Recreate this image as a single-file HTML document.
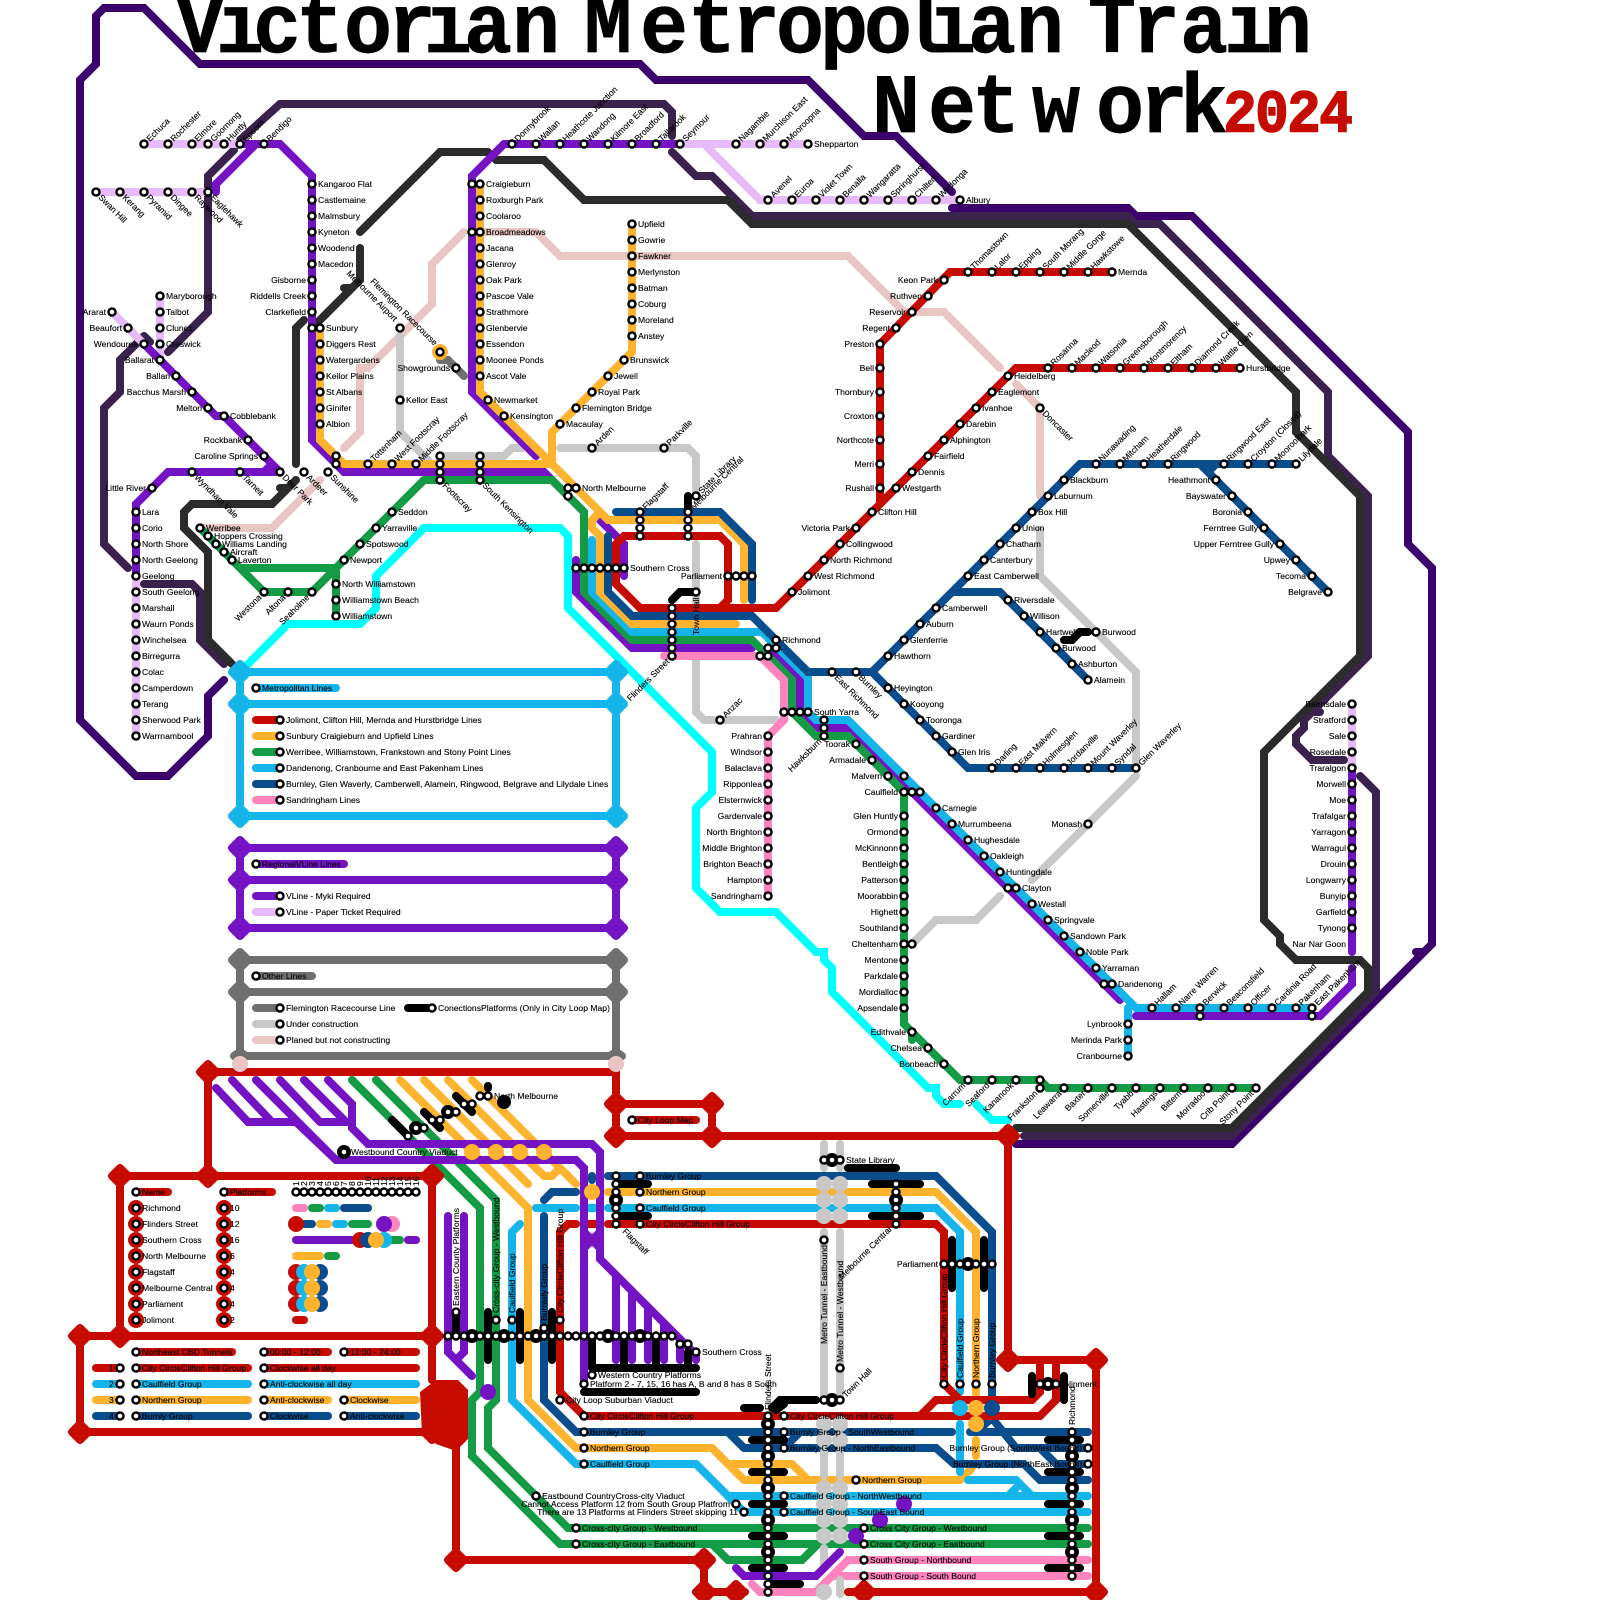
<!DOCTYPE html>
<html lang="en"><head><meta charset="utf-8"><title>Victorian Metropolian Train Network 2024</title>
<style>
html,body{margin:0;padding:0;background:#fff}
svg{display:block}
.l path,path.l{fill:none;stroke-width:8;stroke-linecap:round;stroke-linejoin:miter;stroke-miterlimit:4}
.d path{stroke-width:8;stroke-linejoin:round}
text{font-family:"Liberation Sans",sans-serif;font-size:8.6px;fill:#000;stroke:#000;stroke-width:.12px}
.e text,text.e{text-anchor:end}
.t{font-family:"Liberation Mono",monospace;font-weight:bold;font-size:80px;text-anchor:middle;stroke-width:.6px}
.y{font-family:"Liberation Mono",monospace;font-weight:bold;font-size:56px;text-anchor:middle;fill:#c60c00;stroke:#c60c00;stroke-width:1.5px}
</style></head><body>
<svg xmlns="http://www.w3.org/2000/svg" width="1600" height="1600" viewBox="0 0 1600 1600">
<defs>
<path id="st" fill="none" stroke-linecap="round" d="M144 144h0m24 0h0m24 0h0m16 0h0m16 0h0m16 0h0m24 0h0
M96 192h0m24 0h0m24 0h0m24 0h0m24 0h0m16 0h0
M160 296h0m0 16h0m0 16h0m0 16h0m0 16h0 M112 312h0 M128 328h0 M144 344h0 M176 376h0 M192 392h0 M208 408h0 M224 416h0 M248 440h0 M264 456h0
M192 472h0m48 0h0m40 0h0m24 0h0m24 0h0 M152 488h0
M136 512h0m0 16h0m0 16h0m0 16h0m0 16h0m0 16h0m0 16h0m0 16h0m0 16h0m0 16h0m0 16h0m0 16h0m0 16h0m0 16h0m0 16h0
M312 184h0m0 16h0m0 16h0m0 16h0m0 16h0m0 16h0m0 16h0m0 16h0m0 16h0m0 16h0
M320 328h0m0 16h0m0 16h0m0 16h0m0 16h0m0 16h0m0 16h0
M336 456h0m0 8h0 M368 464h0m24 0h0m24 0h0
M440 456h0m0 8h0m0 8h0m0 8h0 M480 456h0m0 8h0m0 8h0m0 8h0
M472 184h0m0 48h0
M480 184h0m0 16h0m0 16h0m0 16h0m0 16h0m0 16h0m0 16h0m0 16h0m0 16h0m0 16h0m0 16h0m0 16h0m0 16h0
M488 400h0 M504 416h0
M512 144h0m24 0h0m24 0h0m24 0h0m24 0h0m24 0h0m24 0h0m24 0h0m56 0h0m24 0h0m24 0h0m24 0h0
M768 200h0m24 0h0m24 0h0m24 0h0m24 0h0m24 0h0m24 0h0m24 0h0m24 0h0
M400 328h0m0 72h0 M440 352h0 M456 368h0
M632 224h0m0 16h0m0 16h0m0 16h0m0 16h0m0 16h0m0 16h0m0 16h0
M624 360h0 M608 376h0 M592 392h0 M576 408h0 M560 424h0 M592 448h0 M664 448h0
M568 488h0m8 0h0 M568 496h0
M640 512h0m0 8h0m0 8h0m0 8h0 M688 512h0m0 8h0m0 8h0m0 8h0 M696 496h0
M200 528h0 M208 536h0 M216 544h0 M224 552h0 M232 560h0
M392 512h0 M376 528h0 M360 544h0 M344 560h0
M264 592h0m24 0h0m24 0h0 M336 584h0m0 16h0m0 16h0
M576 568h0m8 0h0m8 0h0m8 0h0m8 0h0m8 0h0m8 0h0
M728 576h0m8 0h0m8 0h0m8 0h0 M696 592h0
M672 608h0m0 8h0m0 8h0m0 8h0m0 8h0m0 8h0m0 8h0
M776 640h0m0 8h0 M768 648h0m0 8h0 M760 656h0
M784 712h0m8 0h0m8 0h0m8 0h0 M824 720h0m0 8h0m0 8h0 M720 720h0
M856 744h0 M872 760h0 M888 776h0 M904 776h0 M904 792h0m8 0h0m8 0h0
M768 736h0m0 16h0m0 16h0m0 16h0m0 16h0m0 16h0m0 16h0m0 16h0m0 16h0m0 16h0m0 16h0
M904 816h0m0 16h0m0 16h0m0 16h0m0 16h0m0 16h0m0 16h0m0 16h0m0 16h0m0 16h0m0 16h0m0 16h0m0 16h0 M912 944h0
M912 1032h0 M928 1048h0 M944 1064h0
M968 1080h0m24 0h0m24 0h0m24 0h0 M1040 1088h0m24 0h0m24 0h0m24 0h0m24 0h0m24 0h0m24 0h0m24 0h0m24 0h0m24 0h0
M968 272h0m24 0h0m24 0h0m24 0h0m24 0h0m24 0h0m24 0h0
M944 280h0 M928 296h0 M912 312h0 M896 328h0 M880 344h0m0 24h0m0 24h0m0 24h0m0 24h0m0 24h0m0 24h0
M1048 368h0m24 0h0m24 0h0m24 0h0m24 0h0m24 0h0m24 0h0m24 0h0m24 0h0
M1008 376h0 M992 392h0 M976 408h0 M960 424h0 M944 440h0 M928 456h0 M912 472h0 M896 488h0 M872 512h0 M856 528h0 M840 544h0 M824 560h0 M808 576h0 M792 592h0
M1040 408h0 M1096 464h0m24 0h0m24 0h0m24 0h0m56 0h0m24 0h0m24 0h0m24 0h0
M1064 480h0 M1048 496h0 M1032 512h0 M1016 528h0 M1000 544h0 M984 560h0 M968 576h0 M936 608h0 M920 624h0 M904 640h0 M888 656h0
M832 672h0m24 0h0
M1216 480h0m16 16h0m16 16h0m16 16h0m16 16h0m16 16h0m16 16h0m16 16h0
M1008 600h0m16 16h0m16 16h0m16 16h0m16 16h0m16 16h0 M1096 632h0
M888 688h0m16 16h0m16 16h0m16 16h0m16 16h0
M992 768h0m24 0h0m24 0h0m24 0h0m24 0h0m24 0h0m24 0h0 M1088 824h0
M936 808h0m16 16h0m16 16h0m16 16h0m16 16h0 M1008 888h0m8 0h0 M1032 904h0m16 16h0m16 16h0m16 16h0m16 16h0 M1104 984h0m8 0h0
M1152 1008h0m24 0h0m24 0h0m24 0h0m24 0h0m24 0h0m24 0h0m16 0h0 M1200 1016h0 M1312 1016h0
M1128 1024h0m0 16h0m0 16h0
M1352 704h0m0 16h0m0 16h0m0 16h0m0 16h0m0 16h0m0 16h0m0 16h0m0 16h0m0 16h0m0 16h0m0 16h0m0 16h0m0 16h0m0 16h0
M256 688h0 M280 720h0m0 16h0m0 16h0m0 16h0m0 16h0m0 16h0
M256 864h0 M280 896h0m0 16h0 M256 976h0 M280 1008h0m0 16h0m0 16h0 M432 1008h0
M632 1120h0 M344 1152h0
M408 1136h0 M416 1128h0m8 0h0 M432 1120h0m8 0h0 M448 1112h0m8 0h0 M464 1104h0m8 0h0 M480 1096h0m8 0h0
M136 1192h0m0 16h0m0 16h0m0 16h0m0 16h0m0 16h0m0 16h0m0 16h0m0 16h0
M224 1192h0m0 16h0m0 16h0m0 16h0m0 16h0m0 16h0m0 16h0m0 16h0m0 16h0
M296 1192h0m8 0h0m8 0h0m8 0h0m8 0h0m8 0h0m8 0h0m8 0h0m8 0h0m8 0h0m8 0h0m8 0h0m8 0h0m8 0h0m8 0h0m8 0h0
M136 1352h0m128 0h0m80 0h0 M120 1368h0m16 0h0m128 0h0 M120 1384h0m16 0h0m128 0h0 M120 1400h0m16 0h0m128 0h0m80 0h0 M120 1416h0m16 0h0m128 0h0m80 0h0
M456 1312h0 M496 1320h0 M512 1320h0 M544 1328h0 M560 1320h0
M448 1336h0m8 0h0m8 0h0m8 0h0m8 0h0m8 0h0m8 0h0m8 0h0m8 0h0m8 0h0m8 0h0m8 0h0m8 0h0m8 0h0m8 0h0m8 0h0m8 0h0m8 0h0m8 0h0m8 0h0m8 0h0m8 0h0m8 0h0m8 0h0m8 0h0m8 0h0m8 0h0m8 0h0m8 0h0
M680 1344h0m8 0h0 M696 1352h0 M592 1375h0 M584 1384h0 M560 1400h0
M616 1176h0m0 8h0m0 8h0m0 8h0m0 8h0m0 8h0m0 8h0 M640 1176h0m0 16h0m0 16h0m0 16h0
M896 1184h0m0 8h0m0 8h0m0 8h0m0 8h0m0 8h0 M824 1160h0m8 0h0m8 0h0 M824 1240h0 M840 1368h0 M824 1400h0m8 0h0m8 0h0
M944 1264h0m8 0h0m8 0h0m8 0h0m8 0h0m8 0h0m8 0h0 M944 1384h0m16 0h0m16 0h0m16 0h0 M1040 1384h0m8 0h0m8 0h0
M584 1416h0m0 16h0m0 16h0m0 16h0 M576 1528h0m0 16h0 M536 1496h0 M736 1504h0 M744 1512h0
M768 1416h0m0 8h0m0 8h0m0 8h0m0 8h0m0 8h0m0 8h0m0 8h0m0 8h0m0 8h0m0 8h0m0 8h0m0 8h0m0 8h0m0 8h0m0 8h0m0 8h0m0 8h0m0 8h0m0 8h0m0 8h0m0 8h0m0 8h0
M784 1416h0m0 16h0m0 16h0 M784 1496h0m0 16h0 M856 1480h0 M864 1528h0m0 16h0m0 16h0m0 16h0
M1072 1432h0m0 8h0m0 8h0m0 8h0m0 8h0m0 8h0m0 8h0m0 8h0m0 8h0m0 8h0m0 8h0m0 8h0m0 8h0m0 8h0m0 8h0m0 8h0m0 8h0m0 8h0m0 8h0
M1088 1448h0m0 16h0"/>
</defs>
<rect width="1600" height="1600" fill="#fff"/>

<text class="t" transform="scale(1 1.06)" y="49" x="200 240 277 320 368 412 448 488 536 572 608 664 712 756 800 844 888 924 952 992 1040 1076 1112 1156 1204 1248 1288">Victorian Metropolian Train</text>
<text class="t" transform="scale(1 1.06)" y="124.5" x="896 952 996 1056 1120 1164 1204">Network</text>
<text class="y" transform="scale(1 1.07)" y="123" x="1240 1272 1304 1336">2024</text>

<g class="l">
<!-- outer country lines -->
<g stroke="#3c006c"><path d="M952 192L896 136H864L808 80H656L640 64H200L144 8H104L96 16V64L80 80V720L136 776H168L208 736V696L224 680"/>
<path d="M952 208H1128L1136 216H1192L1408 432V544L1432 568V944L1232 1144H1016M1416 952H1424M1240 1128H1248"/></g>
<g stroke="#39224c"><path d="M240 140L280 104H664L672 112V136M234 150L208 176V312L168 352M144 336L120 360V392L104 408V544L128 568M144 584H192L200 592V640L224 664M672 152L696 176H712L752 216H1128L1136 224H1160L1328 392V456L1368 496V656L1304 720V728L1296 736V744L1312 760H1344M1360 776L1376 792V992L1232 1136L1224 1136H1024M1312 712H1320M144 336L150 342"/></g>
<g stroke="#2b2b2b"><path d="M360 232L440 152H488M496 160H544L584 200H728L752 224H1128L1296 392V432L1360 496V656L1264 752V920L1280 936V944L1296 960H1360L1368 968V992L1232 1128H1016M360 248V280L312 328M344 288H352M304 320L296 328V464M296 480L272 504H192L184 512V528L208 552V640L232 664M280 488H288"/></g>

<!-- pale & grey -->
<g stroke="#e8c6c4"><path d="M464 232L432 264V304L368 368H360V432L344 448M480 232H536L560 256H848L904 312H944L1000 368M1016 384L1040 408V496M320 480L272 528H200"/></g>
<g stroke="#c8c8c8"><path d="M400 336V432L428 460M440 456H504L512 448H522M560 448H688L696 456V496M696 544V604M696 662V712L704 720H776M1040 530V576L1136 672V768M1136 776L1032 880M1000 896L976 920H936L912 944"/></g>
<path stroke="#6f6f6f" d="M440 360H448L464 376"/>
<path stroke="#00ffff" d="M248 664L288 624H360L376 608V576L424 528H560L568 536V608L712 752V792L696 808V888L720 912H776L816 952H824V960L832 968V992L928 1088H936V1096L944 1104H960M976 1104L992 1120H1008"/>

<!-- light purple -->
<g stroke="#e6bbf8"><path d="M144 144H240M96 192H208M112 312L144 344M160 296V360M136 576V736M680 144H808M704 144L760 200H960M1352 704V768"/></g>

<!-- purple -->
<g stroke="#7412c4"><path d="M240 144H280L312 176V440L344 472H544L584 512M216 192V184L256 144M144 344L216 416H224L280 472M264 472L272 464M280 472H168L136 504V576"/>
<path d="M504 144H680M504 144L472 176V392L536 456M600 520L624 544V576"/>
<path d="M576 560V592L632 648H752M768 648L800 680V712L816 728H848L1120 1000M1136 1016H1320L1352 984V968M1352 768V952"/></g>

<!-- green -->
<path stroke="#149b45" d="M424 480H552L584 512V592L632 640H752L792 680V712L816 736H848L904 792V1024L960 1080H1040L1048 1088H1256M912 1032V1040M424 480L336 568H240L200 528M240 568L264 592H312L336 568V616"/>
<!-- light blue -->
<path stroke="#15b4e9" d="M592 540V592L632 632H762L808 678V712L816 720H848L1136 1008H1312M1128 1008V1056"/>
<!-- orange -->
<path stroke="#ffb32e" d="M320 328V440L344 464H552M480 184V392L608 520H720L744 544V600M632 224V352L552 432V464M600 512L592 520V528L600 536V592L632 624H736"/>
<!-- dark blue -->
<path stroke="#0a4d8c" d="M616 512H720L752 544V600M608 536V592L632 616H752L808 672H872L1080 464H1296M1200 464L1328 592M1216 464L1208 472M952 592H1000L1088 680M872 672L968 768H1136"/>
<!-- pink -->
<path stroke="#ff83bd" d="M664 656H760L784 680V720L768 736V896"/>
<!-- red -->
<path stroke="#c60c00" d="M1112 272H950L880 344V504M1240 368H1016L776 608H640L616 584V544L624 536H720L728 544V600L720 608"/>

<!-- legend boxes -->
<g stroke="#15b4e9"><path d="M240 672H616M240 704H616M240 816H616M240 672V816M616 672V816M256 688H336M256 768H280"/></g>
<g stroke="#7412c4"><path d="M240 848H616M240 880H616M240 928H616M240 848V928M616 848V928M256 864H344M256 896H280"/></g>
<path stroke="#e6bbf8" d="M256 912H280"/>
<g stroke="#6f6f6f"><path d="M240 960H616M240 992H616M240 1056H616M240 960V1056M616 960V1056M256 976H312M256 1008H280"/></g>
<path stroke="#c8c8c8" d="M256 1024H280"/><path stroke="#e8c6c4" d="M256 1040H280"/>
<path stroke="#000" d="M408 1008H432"/>
<path stroke="#c60c00" d="M256 720H280"/><path stroke="#ffb32e" d="M256 736H280"/><path stroke="#149b45" d="M256 752H280"/><path stroke="#15b4e9" d="M256 768H280"/><path stroke="#0a4d8c" d="M256 784H280"/><path stroke="#ff83bd" d="M256 800H280"/>

<!-- red frames -->
<path stroke="#c60c00" d="M208 1072H616V1136M616 1104H712V1136M616 1136H1008V1360H1096V1592M848 1592H1096M208 1072V1176M120 1176H432V1380M120 1176V1336M80 1336H432M80 1336V1432H432M456 1440V1560H704V1592M696 1592H745M632 1120H696
M136 1192H168M224 1192H272M136 1352H232M264 1352H328M344 1352H416M96 1368H120M136 1368H248M264 1368H416M296 1320H304"/>
<path stroke="#15b4e9" d="M96 1384H120M136 1384H248M264 1384H416"/>
<path stroke="#ffb32e" d="M96 1400H120M136 1400H248M264 1400H328M344 1400H416"/>
<path stroke="#0a4d8c" d="M96 1416H120M136 1416H248M264 1416H328M344 1416H416"/>

<!-- platforms key -->
<path stroke="#ff83bd" d="M296 1208H304"/><path stroke="#149b45" d="M312 1208H320"/><path stroke="#15b4e9" d="M328 1208H336"/><path stroke="#0a4d8c" d="M344 1208H368"/>
<path stroke="#0a4d8c" d="M304 1224H312"/><path stroke="#ffb32e" d="M320 1224H328"/><path stroke="#15b4e9" d="M336 1224H344"/><path stroke="#149b45" d="M352 1224H368"/>
<path stroke="#7412c4" d="M296 1240H352M408 1240H416"/><path stroke="#149b45" d="M392 1240H400"/>
<path stroke="#ffb32e" d="M296 1256H320"/><path stroke="#149b45" d="M328 1256H336"/>

<!-- city loop map lines -->
<g stroke="#149b45"><path d="M352 1080L480 1208V1392L472 1400V1456L560 1544H1088M376 1080L496 1200V1400L488 1408V1448L568 1528H1088M712 1544L728 1560H802L818 1544"/></g>
<g stroke="#ffb32e"><path d="M400 1080L528 1208V1400L576 1448H712L744 1480H960L972 1468M424 1080L528 1184M448 1080L536 1168L544 1176H552L560 1168M472 1080L576 1184M608 1192H936L976 1232V1394M712 1448L728 1464H792L808 1480M976 1440V1456"/></g>
<g stroke="#15b4e9"><path d="M520 1224L512 1232V1400L576 1464H696L728 1496H1088M744 1512H1088M728 1496L744 1512M608 1208H936L960 1232V1392M960 1424V1472M536 1208H576M584 1208H600M968 1480H1016L1032 1496M1008 1496L1016 1488"/></g>
<g stroke="#0a4d8c"><path d="M608 1176H936L992 1232V1396M544 1216V1400L576 1432H952M544 1200L552 1192H576M592 1176V1180M744 1448H936L954 1464H1024L1040 1480H1088M728 1432L744 1448M800 1432L784 1448M970 1432H1088M976 1432L992 1418L1016 1448H1088M1040 1448L1056 1464H1088"/></g>
<g stroke="#c60c00"><path d="M608 1224H936L944 1232V1384L960 1400M576 1224H568L560 1232V1392L584 1416H1040L1056 1400V1360M920 1416L936 1400H1032L1040 1392V1360M584 1224H600"/></g>
<g stroke="#ff83bd"><path d="M752 1584L760 1592H816L848 1560H1088M816 1592L832 1576H1088"/></g>
<g stroke="#c8c8c8"><path d="M824 1144V1168M840 1144V1168M824 1232V1396M840 1232V1396M824 1452V1476M840 1452V1476M824 1548V1564M840 1580V1594"/></g>
<g stroke="#7412c4"><path d="M216 1088L248 1122H296L336 1160H576L584 1168V1380M256 1080L336 1160M232 1080L272 1122M280 1080L320 1122M304 1080L346 1122M328 1080L352 1104V1128L368 1144H592L600 1152V1259L696 1355V1360M320 1122H352"/>
<path d="M616 1275V1360M632 1291V1360M648 1307V1360M664 1323V1360M680 1339V1360M584 1232L600 1248M600 1232L584 1248M448 1216V1352L472 1376M464 1216V1352L456 1360M736 1568L744 1576H816L840 1552"/></g>

<!-- black connectors -->
<g stroke="#000"><path d="M672 600L680 592H696M688 496V508M1064 640H1072L1080 632H1088
M392 1120L408 1136M424 1112L440 1128M456 1096L472 1112M488 1086V1088
M456 1312V1336M488 1312V1360M520 1312V1360M552 1312V1360M592 1336V1368M624 1336V1368M656 1336V1368M688 1352V1368M592 1368H696M584 1392H696
M616 1184H648M616 1216H648M872 1184H920M872 1216H920M848 1168H896M952 1240V1288M984 1240V1288M772 1408L780 1400H816M776 1410L784 1404M744 1408H760M1032 1376V1394M1064 1376V1400
M752 1440H784M752 1472H784M752 1504H784M752 1536H784M752 1568H784M768 1584H800M1048 1440H1080M1048 1472H1080M1048 1504H1080M1048 1536H1080M1048 1568H1080"/></g>
</g>

<!-- big octagon -->
<polygon fill="#c60c00" points="436,1380 458,1380 468,1390 468,1439 456,1451 436,1444 422,1435 420,1392"/>

<!-- diamonds -->
<g class="d">
<path fill="#15b4e9" stroke="#15b4e9" d="M240 664l8 8-8 8-8-8zM616 664l8 8-8 8-8-8zM240 696l8 8-8 8-8-8zM616 696l8 8-8 8-8-8zM240 808l8 8-8 8-8-8zM616 808l8 8-8 8-8-8z"/>
<path fill="#7412c4" stroke="#7412c4" d="M240 840l8 8-8 8-8-8zM616 840l8 8-8 8-8-8zM240 872l8 8-8 8-8-8zM616 872l8 8-8 8-8-8zM240 920l8 8-8 8-8-8zM616 920l8 8-8 8-8-8z"/>
<path fill="#6f6f6f" stroke="#6f6f6f" d="M240 952l8 8-8 8-8-8zM616 952l8 8-8 8-8-8zM240 984l8 8-8 8-8-8zM616 984l8 8-8 8-8-8zM240 1052l6 4-6 4-6-4zM616 1052l6 4-6 4-6-4z"/>
<path fill="#c60c00" stroke="#c60c00" d="M208 1064l8 8-8 8-8-8zM616 1096l8 8-8 8-8-8zM712 1096l8 8-8 8-8-8zM616 1128l8 8-8 8-8-8zM712 1128l8 8-8 8-8-8zM1008 1128l8 8-8 8-8-8zM1008 1352l8 8-8 8-8-8zM1096 1352l8 8-8 8-8-8zM1096 1584l8 8-8 8-8-8zM704 1552l8 8-8 8-8-8zM456 1552l8 8-8 8-8-8zM80 1328l8 8-8 8-8-8zM120 1328l8 8-8 8-8-8zM432 1328l8 8-8 8-8-8zM120 1168l8 8-8 8-8-8zM208 1168l8 8-8 8-8-8zM432 1168l8 8-8 8-8-8zM80 1424l8 8-8 8-8-8zM432 1424l8 8-8 8-8-8zM736 1584l8 8-8 8-8-8zM864 1584l8 8-8 8-8-8zM704 1584l8 8-8 8-8-8z"/>
</g>

<!-- dots/blobs -->
<g fill="none" stroke-linecap="round">
<path stroke="#e8c6c4" stroke-width="16" d="M240 1064h0M616 1064h0"/>
<path stroke="#ffb32e" stroke-width="16" d="M440 352h0M472 1152h0m24 0h0m24 0h0m24 0h0M592 1192h0"/>
<path stroke="#c8c8c8" stroke-width="16" d="M824 1184h0m0 16h0m0 16h0M840 1184h0m0 16h0m0 16h0M824 1424h0m0 16h0M840 1424h0m0 16h0M824 1488h0m0 16h0m0 16h0m0 16h0M840 1488h0m0 16h0m0 16h0m0 16h0M824 1592h0"/>
<path stroke="#c60c00" stroke-width="16" d="M136 1208h0m0 16h0m0 16h0m0 16h0m0 16h0m0 16h0m0 16h0m0 16h0M224 1208h0m0 16h0m0 16h0m0 16h0m0 16h0m0 16h0m0 16h0m0 16h0M296 1224h0M360 1240h0M296 1272h0m0 16h0m0 16h0"/>
<path stroke="#ff83bd" stroke-width="16" d="M392 1224h0"/>
<path stroke="#7412c4" stroke-width="16" d="M384 1224h0M488 1392h0M904 1504h0M880 1520h0M856 1536h0"/>
<path stroke="#0a4d8c" stroke-width="16" d="M368 1240h0M320 1272h0m0 16h0m0 16h0M992 1408h0"/>
<path stroke="#15b4e9" stroke-width="16" d="M384 1240h0M304 1272h0m0 16h0m0 16h0M960 1408h0"/>
<path stroke="#ffb32e" stroke-width="16" d="M376 1240h0M312 1272h0m0 16h0m0 16h0M976 1408h0m0 16h0"/>
<path stroke="#000" stroke-width="14" d="M472 1336h0m32 0h0m32 0h0m72 0h0m32 0h0M616 1200h0M896 1200h0M832 1160h0M832 1400h0M968 1264h0M1048 1384h0M768 1424h0m0 32h0m0 32h0m0 32h0m0 32h0M1072 1456h0m0 32h0m0 32h0m0 32h0M416 1128h0M448 1112h0M504 1102h0M344 1152h0"/>
</g>

<!-- stations -->
<use href="#st" stroke="#000" stroke-width="9.5"/>
<use href="#st" stroke="#fff" stroke-width="4.6"/>

<!-- labels: right -->
<g>
<text x="318" y="187">Kangaroo Flat</text><text x="318" y="203">Castlemaine</text><text x="318" y="219">Malmsbury</text><text x="318" y="235">Kyneton</text><text x="318" y="251">Woodend</text><text x="318" y="267">Macedon</text>
<text x="326" y="331">Sunbury</text><text x="326" y="347">Diggers Rest</text><text x="326" y="363">Watergardens</text><text x="326" y="379">Keilor Plains</text><text x="326" y="395">St Albans</text><text x="326" y="411">Ginifer</text><text x="326" y="427">Albion</text>
<text x="166" y="299">Maryborough</text><text x="166" y="315">Talbot</text><text x="166" y="331">Clunes</text><text x="166" y="347">Creswick</text><text x="230" y="419">Cobblebank</text>
<text x="142" y="515">Lara</text><text x="142" y="531">Corio</text><text x="142" y="547">North Shore</text><text x="142" y="563">North Geelong</text><text x="142" y="579">Geelong</text><text x="142" y="595">South Geelong</text><text x="142" y="611">Marshall</text><text x="142" y="627">Waurn Ponds</text><text x="142" y="643">Winchelsea</text><text x="142" y="659">Birregurra</text><text x="142" y="675">Colac</text><text x="142" y="691">Camperdown</text><text x="142" y="707">Terang</text><text x="142" y="723">Sherwood Park</text><text x="142" y="739">Warrnambool</text>
<text x="206" y="531">Werribee</text><text x="214" y="539">Hoppers Crossing</text><text x="222" y="547">Williams Landing</text><text x="230" y="555">Aircraft</text><text x="238" y="563">Laverton</text>
<text x="398" y="515">Seddon</text><text x="382" y="531">Yarraville</text><text x="366" y="547">Spotswood</text><text x="350" y="563">Newport</text>
<text x="342" y="587">North Williamstown</text><text x="342" y="603">Williamstown Beach</text><text x="342" y="619">Williamstown</text>
<text x="406" y="403">Kellor East</text>
<text x="486" y="187">Craigieburn</text><text x="486" y="203">Roxburgh Park</text><text x="486" y="219">Coolaroo</text><text x="486" y="235">Broadmeadows</text><text x="486" y="251">Jacana</text><text x="486" y="267">Glenroy</text><text x="486" y="283">Oak Park</text><text x="486" y="299">Pascoe Vale</text><text x="486" y="315">Strathmore</text><text x="486" y="331">Glenbervie</text><text x="486" y="347">Essendon</text><text x="486" y="363">Moonee Ponds</text><text x="486" y="379">Ascot Vale</text><text x="494" y="403">Newmarket</text><text x="510" y="419">Kensington</text>
<text x="638" y="227">Upfield</text><text x="638" y="243">Gowrie</text><text x="638" y="259">Fawkner</text><text x="638" y="275">Merlynston</text><text x="638" y="291">Batman</text><text x="638" y="307">Coburg</text><text x="638" y="323">Moreland</text><text x="638" y="339">Anstey</text>
<text x="630" y="363">Brunswick</text><text x="614" y="379">Jewell</text><text x="598" y="395">Royal Park</text><text x="582" y="411">Flemington Bridge</text><text x="566" y="427">Macaulay</text><text x="582" y="491">North Melbourne</text>
<text x="814" y="147">Shepparton</text><text x="966" y="203">Albury</text>
<text x="1118" y="275">Mernda</text><text x="1246" y="371">Hurstbridge</text>
<text x="1014" y="379">Heidelberg</text><text x="998" y="395">Eaglemont</text><text x="982" y="411">Ivanhoe</text><text x="966" y="427">Darebin</text><text x="950" y="443">Alphington</text><text x="934" y="459">Fairfield</text><text x="918" y="475">Dennis</text><text x="902" y="491">Westgarth</text><text x="878" y="515">Clifton Hill</text><text x="846" y="547">Collingwood</text><text x="830" y="563">North Richmond</text><text x="814" y="579">West Richmond</text><text x="798" y="595">Jolimont</text>
<text x="1070" y="483">Blackburn</text><text x="1054" y="499">Laburnum</text><text x="1038" y="515">Box Hill</text><text x="1022" y="531">Union</text><text x="1006" y="547">Chatham</text><text x="990" y="563">Canterbury</text><text x="974" y="579">East Camberwell</text><text x="942" y="611">Camberwell</text><text x="926" y="627">Auburn</text><text x="910" y="643">Glenferrie</text><text x="894" y="659">Hawthorn</text>
<text x="894" y="691">Heyington</text><text x="910" y="707">Kooyong</text><text x="926" y="723">Tooronga</text><text x="942" y="739">Gardiner</text><text x="958" y="755">Glen Iris</text>
<text x="1014" y="603">Riversdale</text><text x="1030" y="619">Willison</text><text x="1046" y="635">Hartwell</text><text x="1062" y="651">Burwood</text><text x="1078" y="667">Ashburton</text><text x="1094" y="683">Alamein</text><text x="1102" y="635">Burwood</text>
<text x="630" y="571">Southern Cross</text><text x="782" y="643">Richmond</text><text x="814" y="715">South Yarra</text>
<text x="942" y="811">Carnegie</text><text x="958" y="827">Murrumbeena</text><text x="974" y="843">Hughesdale</text><text x="990" y="859">Oakleigh</text><text x="1006" y="875">Huntingdale</text><text x="1022" y="891">Clayton</text><text x="1038" y="907">Westall</text><text x="1054" y="923">Springvale</text><text x="1070" y="939">Sandown Park</text><text x="1086" y="955">Noble Park</text><text x="1102" y="971">Yarraman</text><text x="1118" y="987">Dandenong</text>
<!-- legends -->
<text x="262" y="691">Metropolitan Lines</text><text x="286" y="723">Jolimont, Clifton Hill, Mernda and Hurstbridge Lines</text><text x="286" y="739">Sunbury Craigieburn and Upfield Lines</text><text x="286" y="755">Werribee, Williamstown, Frankstown and Stony Point Lines</text><text x="286" y="771">Dandenong, Cranbourne and East Pakenham Lines</text><text x="286" y="787">Burnley, Glen Waverly, Camberwell, Alamein, Ringwood, Belgrave and Lilydale Lines</text><text x="286" y="803">Sandringham Lines</text>
<text x="262" y="867">RegionalVLine Lines</text><text x="286" y="899">VLine - Myki Required</text><text x="286" y="915">VLine - Paper Ticket Required</text>
<text x="262" y="979">Other Lines</text><text x="286" y="1011">Flemington Racecourse Line</text><text x="438" y="1011">ConectionsPlatforms (Only in City Loop Map)</text><text x="286" y="1027">Under construction</text><text x="286" y="1043">Planed but not constructing</text>
<text x="638" y="1123">City Loop Map</text><text x="351" y="1155">Westbound Country Viaduct</text><text x="494" y="1099">North Melbourne</text>
<text x="142" y="1195">Name</text><text x="230" y="1195">Platforms</text>
<text x="142" y="1211">Richmond</text><text x="142" y="1227">Flinders Street</text><text x="142" y="1243">Southern Cross</text><text x="142" y="1259">North Melbourne</text><text x="142" y="1275">Flagstaff</text><text x="142" y="1291">Melbourne Central</text><text x="142" y="1307">Parliament</text><text x="142" y="1323">Jolimont</text>
<text x="230" y="1211">10</text><text x="230" y="1227">12</text><text x="230" y="1243">16</text><text x="230" y="1259">6</text><text x="230" y="1275">4</text><text x="230" y="1291">4</text><text x="230" y="1307">4</text><text x="230" y="1323">2</text>
<text x="142" y="1355">Northeast CBD Tunnels</text><text x="270" y="1355">00:00 - 12:00</text><text x="350" y="1355">12:00 - 24:00</text>
<text x="142" y="1371">City CircleClifton Hill Group</text><text x="270" y="1371">Clockwise all day</text>
<text x="142" y="1387">Caulfield Group</text><text x="270" y="1387">Anti-clockwise all day</text>
<text x="142" y="1403">Northern Group</text><text x="270" y="1403">Anti-clockwise</text><text x="350" y="1403">Clockwise</text>
<text x="142" y="1419">Burnly Group</text><text x="270" y="1419">Clockwise</text><text x="350" y="1419">Anti-clockwise</text>
<text x="109" y="1371">1</text><text x="109" y="1387">2</text><text x="109" y="1403">3</text><text x="109" y="1419">4</text>
<text x="646" y="1179">Burnley Group</text><text x="646" y="1195">Northern Group</text><text x="646" y="1211">Caulfield Group</text><text x="646" y="1227">City CircleClifton Hill Group</text>
<text x="846" y="1163">State Library</text><text x="702" y="1355">Southern Cross</text><text x="598" y="1378">Western Country Platforms</text><text x="590" y="1387">Platform 2 - 7, 15, 16 has A, B and 8 has 8 South</text><text x="566" y="1403">City Loop Suburban Viaduct</text>
<text x="590" y="1419">City CircleClifton Hill Group</text><text x="590" y="1435">Burnley Group</text><text x="590" y="1451">Northern Group</text><text x="590" y="1467">Caulfield Group</text>
<text x="790" y="1419">City CircleClifton Hill Group</text><text x="790" y="1435">Burnly Group - SouthWestbound</text><text x="790" y="1451">Burnley Group - NorthEastbound</text><text x="862" y="1483">Northern Group</text><text x="790" y="1499">Caulfield Group - NorthWestbound</text><text x="790" y="1515">Caulfield Group - SouthEast Bound</text>
<text x="870" y="1531">Cross City Group - Westbound</text><text x="870" y="1547">Cross City Group - Eastbound</text><text x="870" y="1563">South Group - Northbound</text><text x="870" y="1579">South Group - South Bound</text>
<text x="542" y="1499">Eastbound CountryCross-city Viaduct</text><text x="582" y="1531">Cross-city Group - Westbound</text><text x="582" y="1547">Cross-city Group - Eastbound</text>
<text x="1060" y="1387">Jolinment</text>
</g>

<!-- labels: left -->
<g class="e">
<text x="306" y="283">Gisborne</text><text x="306" y="299">Riddells Creek</text><text x="306" y="315">Clarkefield</text>
<text x="106" y="315">Ararat</text><text x="122" y="331">Beaufort</text><text x="138" y="347">Wendouree</text><text x="154" y="363">Ballarat</text><text x="170" y="379">Ballan</text><text x="186" y="395">Bacchus Marsh</text><text x="202" y="411">Melton</text><text x="242" y="443">Rockbank</text><text x="258" y="459">Caroline Springs</text><text x="146" y="491">Little River</text>
<text x="450" y="371">Showgrounds</text>
<text x="938" y="283">Keon Park</text><text x="922" y="299">Ruthven</text><text x="906" y="315">Reservoir</text><text x="890" y="331">Regent</text><text x="874" y="347">Preston</text><text x="874" y="371">Bell</text><text x="874" y="395">Thornbury</text><text x="874" y="419">Croxton</text><text x="874" y="443">Northcote</text><text x="874" y="467">Merri</text><text x="874" y="491">Rushall</text><text x="850" y="531">Victoria Park</text>
<text x="722" y="579">Parliament</text><text x="850" y="747">Toorak</text><text x="866" y="763">Armadale</text><text x="882" y="779">Malvern</text><text x="898" y="795">Caulfield</text>
<text x="762" y="739">Prahran</text><text x="762" y="755">Windsor</text><text x="762" y="771">Balaclava</text><text x="762" y="787">Ripponlea</text><text x="762" y="803">Elsternwick</text><text x="762" y="819">Gardenvale</text><text x="762" y="835">North Brighton</text><text x="762" y="851">Middle Brighton</text><text x="762" y="867">Brighton Beach</text><text x="762" y="883">Hampton</text><text x="762" y="899">Sandringham</text>
<text x="898" y="819">Glen Huntly</text><text x="898" y="835">Ormond</text><text x="898" y="851">McKinnonn</text><text x="898" y="867">Bentleigh</text><text x="898" y="883">Patterson</text><text x="898" y="899">Moorabbin</text><text x="898" y="915">Highett</text><text x="898" y="931">Southland</text><text x="898" y="947">Cheltenham</text><text x="898" y="963">Mentone</text><text x="898" y="979">Parkdale</text><text x="898" y="995">Mordialloc</text><text x="898" y="1011">Apsendale</text><text x="906" y="1035">Edithvale</text><text x="922" y="1051">Chelsea</text><text x="938" y="1067">Bonbeach</text>
<text x="1210" y="483">Heathmont</text><text x="1226" y="499">Bayswater</text><text x="1242" y="515">Boronia</text><text x="1258" y="531">Ferntree Gully</text><text x="1274" y="547">Upper Ferntree Gully</text><text x="1290" y="563">Upwey</text><text x="1306" y="579">Tecoma</text><text x="1322" y="595">Belgrave</text>
<text x="1082" y="827">Monash</text><text x="1122" y="1027">Lynbrook</text><text x="1122" y="1043">Merinda Park</text><text x="1122" y="1059">Cranbourne</text>
<text x="1346" y="707">Bairnsdale</text><text x="1346" y="723">Stratford</text><text x="1346" y="739">Sale</text><text x="1346" y="755">Rosedale</text><text x="1346" y="771">Traralgon</text><text x="1346" y="787">Morwell</text><text x="1346" y="803">Moe</text><text x="1346" y="819">Trafalgar</text><text x="1346" y="835">Yarragon</text><text x="1346" y="851">Warragul</text><text x="1346" y="867">Drouin</text><text x="1346" y="883">Longwarry</text><text x="1346" y="899">Bunyip</text><text x="1346" y="915">Garfield</text><text x="1346" y="931">Tynong</text><text x="1346" y="947">Nar Nar Goon</text>
<text x="938" y="1267">Parliament</text><text x="730" y="1507">Cannot Access Platform 12 from South Group Platfrom</text><text x="738" y="1515">There are 13 Platforms at Flinders Street skipping 11</text>
<text x="1082" y="1451">Burnley Group (SouthWest Bound)</text><text x="1082" y="1467">Burnley Group (NorthEast Bound)</text>
</g>

<!-- rotated -45, start -->
<g>
<text transform="translate(150 142)rotate(-45)">Echuca</text><text transform="translate(174 142)rotate(-45)">Rochester</text><text transform="translate(198 142)rotate(-45)">Elmore</text><text transform="translate(214 142)rotate(-45)">Goornong</text><text transform="translate(230 142)rotate(-45)">Huntly</text><text transform="translate(246 142)rotate(-45)">Epsom</text><text transform="translate(270 142)rotate(-45)">Bendigo</text>
<text transform="translate(518 142)rotate(-45)">Donnybrook</text><text transform="translate(542 142)rotate(-45)">Wallan</text><text transform="translate(566 142)rotate(-45)">Heathcote Junction</text><text transform="translate(590 142)rotate(-45)">Wandong</text><text transform="translate(614 142)rotate(-45)">Kilmore East</text><text transform="translate(638 142)rotate(-45)">Broadford</text><text transform="translate(662 142)rotate(-45)">Tallarook</text><text transform="translate(686 142)rotate(-45)">Seymour</text><text transform="translate(742 142)rotate(-45)">Nagambie</text><text transform="translate(766 142)rotate(-45)">Murchison East</text><text transform="translate(790 142)rotate(-45)">Mooroopna</text>
<text transform="translate(774 198)rotate(-45)">Avenel</text><text transform="translate(798 198)rotate(-45)">Euroa</text><text transform="translate(822 198)rotate(-45)">Violet Town</text><text transform="translate(846 198)rotate(-45)">Benalla</text><text transform="translate(870 198)rotate(-45)">Wangaratta</text><text transform="translate(894 198)rotate(-45)">Springhurst</text><text transform="translate(918 198)rotate(-45)">Chiltern</text><text transform="translate(942 198)rotate(-45)">Wodonga</text>
<text transform="translate(374 462)rotate(-45)">Tottenham</text><text transform="translate(398 462)rotate(-45)">West Footscray</text><text transform="translate(422 462)rotate(-45)">Middle Footscray</text>
<text transform="translate(598 446)rotate(-45)">Arden</text><text transform="translate(670 446)rotate(-45)">Parkville</text><text transform="translate(646 510)rotate(-45)">Flagstaff</text><text transform="translate(702 494)rotate(-45)">State Library</text><text transform="translate(694 510)rotate(-45)">Melbourne Central</text><text transform="translate(726 718)rotate(-45)">Anzac</text>
<text transform="translate(974 270)rotate(-45)">Thomastown</text><text transform="translate(998 270)rotate(-45)">Lalor</text><text transform="translate(1022 270)rotate(-45)">Epping</text><text transform="translate(1046 270)rotate(-45)">South Morang</text><text transform="translate(1070 270)rotate(-45)">Middle Gorge</text><text transform="translate(1094 270)rotate(-45)">Hawkstowe</text>
<text transform="translate(1054 366)rotate(-45)">Rosanna</text><text transform="translate(1078 366)rotate(-45)">Macleod</text><text transform="translate(1102 366)rotate(-45)">Watsonia</text><text transform="translate(1126 366)rotate(-45)">Greensborough</text><text transform="translate(1150 366)rotate(-45)">Montmorency</text><text transform="translate(1174 366)rotate(-45)">Eltham</text><text transform="translate(1198 366)rotate(-45)">Diamond Creek</text><text transform="translate(1222 366)rotate(-45)">Wattle Glen</text>
<text transform="translate(1102 462)rotate(-45)">Nunawading</text><text transform="translate(1126 462)rotate(-45)">Mitcham</text><text transform="translate(1150 462)rotate(-45)">Heatherdale</text><text transform="translate(1174 462)rotate(-45)">Ringwood</text><text transform="translate(1230 462)rotate(-45)">Ringwood East</text><text transform="translate(1254 462)rotate(-45)">Croydon (Closed)</text><text transform="translate(1278 462)rotate(-45)">Mooroolbark</text><text transform="translate(1302 462)rotate(-45)">Lilydale</text>
<text transform="translate(998 766)rotate(-45)">Darling</text><text transform="translate(1022 766)rotate(-45)">East Malvern</text><text transform="translate(1046 766)rotate(-45)">Holmesglen</text><text transform="translate(1070 766)rotate(-45)">Jordanville</text><text transform="translate(1094 766)rotate(-45)">Mount Waverley</text><text transform="translate(1118 766)rotate(-45)">Syndal</text><text transform="translate(1142 766)rotate(-45)">Glen Waverley</text>
<text transform="translate(1158 1006)rotate(-45)">Hallam</text><text transform="translate(1182 1006)rotate(-45)">Narre Warren</text><text transform="translate(1206 1006)rotate(-45)">Berwick</text><text transform="translate(1230 1006)rotate(-45)">Beaconsfield</text><text transform="translate(1254 1006)rotate(-45)">Officer</text><text transform="translate(1278 1006)rotate(-45)">Cardinia Road</text><text transform="translate(1302 1006)rotate(-45)">Pakenham</text><text transform="translate(1318 1006)rotate(-45)">East Pakenham</text>
<text transform="translate(846 1398)rotate(-45)">Town Hall</text>
</g>
<!-- rotated -45, end -->
<g class="e">
<text transform="translate(262 598)rotate(-45)">Westona</text><text transform="translate(286 598)rotate(-45)">Altona</text><text transform="translate(310 598)rotate(-45)">Seaholme</text>
<text transform="translate(670 662)rotate(-45)">Flinders Street</text><text transform="translate(822 742)rotate(-45)">Hawksburn</text>
<text transform="translate(966 1086)rotate(-45)">Carrum</text><text transform="translate(990 1086)rotate(-45)">Seaford</text><text transform="translate(1014 1086)rotate(-45)">Kananook</text><text transform="translate(1038 1094)rotate(-45)">Frankston</text><text transform="translate(1062 1094)rotate(-45)">Leawarra</text><text transform="translate(1086 1094)rotate(-45)">Baxter</text><text transform="translate(1110 1094)rotate(-45)">Somerville</text><text transform="translate(1134 1094)rotate(-45)">Tyabb</text><text transform="translate(1158 1094)rotate(-45)">Hastings</text><text transform="translate(1182 1094)rotate(-45)">Bittern</text><text transform="translate(1206 1094)rotate(-45)">Morradoo</text><text transform="translate(1230 1094)rotate(-45)">Crib Point</text><text transform="translate(1254 1094)rotate(-45)">Stony Point</text>
<text transform="translate(892 1230)rotate(-45)">Melbourne Central</text>
<text transform="translate(394 322)rotate(45)">Melbourne Airport</text><text transform="translate(434 346)rotate(45)">Flemington Racecourse</text>
</g>
<!-- rotated +45 -->
<g>
<text transform="translate(98 198)rotate(45)">Swan Hill</text><text transform="translate(122 198)rotate(45)">Kerang</text><text transform="translate(146 198)rotate(45)">Pyramid</text><text transform="translate(170 198)rotate(45)">Dingee</text><text transform="translate(194 198)rotate(45)">Raywood</text><text transform="translate(210 198)rotate(45)">Eaglehawk</text>
<text transform="translate(194 478)rotate(45)">Wyndham Vale</text><text transform="translate(242 478)rotate(45)">Tarneit</text><text transform="translate(282 478)rotate(45)">Deer Park</text><text transform="translate(306 478)rotate(45)">Ardeer</text><text transform="translate(330 478)rotate(45)">Sunshine</text><text transform="translate(442 486)rotate(45)">Footscray</text><text transform="translate(482 486)rotate(45)">South Kensington</text>
<text transform="translate(1042 414)rotate(45)">Doncaster</text><text transform="translate(834 678)rotate(45)">East Richmond</text><text transform="translate(858 678)rotate(45)">Burnley</text><text transform="translate(622 1232)rotate(45)">Flagstaff</text>
</g>
<!-- rotated -90 -->
<g>
<text transform="translate(459 1306)rotate(-90)">Eastern County Platforms</text><text transform="translate(499 1313)rotate(-90)">Cross-city Group - Westbound</text><text transform="translate(515 1313)rotate(-90)">Caulfield Group</text><text transform="translate(547 1321)rotate(-90)">Burnlely Group</text><text transform="translate(563 1313)rotate(-90)">City CircleClifton Hill Group</text>
<text transform="translate(947 1378)rotate(-90)">City CircleClifton Hill Group</text><text transform="translate(963 1378)rotate(-90)">Caulfield Group</text><text transform="translate(979 1378)rotate(-90)">Northern Group</text><text transform="translate(995 1378)rotate(-90)">Burnley Group</text>
<text transform="translate(827 1344)rotate(-90)">Metro Tunnel - Eastbound</text><text transform="translate(843 1362)rotate(-90)">Metro Tunnel - Westbound</text>
<text transform="translate(771 1410)rotate(-90)">Flinders Street</text><text transform="translate(1075 1425)rotate(-90)">Richmond</text><text transform="translate(699 635)rotate(-90)">Town Hall</text>
<text transform="translate(299 1186)rotate(-90)">1</text><text transform="translate(307 1186)rotate(-90)">2</text><text transform="translate(315 1186)rotate(-90)">3</text><text transform="translate(323 1186)rotate(-90)">4</text><text transform="translate(331 1186)rotate(-90)">5</text><text transform="translate(339 1186)rotate(-90)">6</text><text transform="translate(347 1186)rotate(-90)">7</text><text transform="translate(355 1186)rotate(-90)">8</text><text transform="translate(363 1186)rotate(-90)">9</text><text transform="translate(371 1186)rotate(-90)">10</text><text transform="translate(379 1186)rotate(-90)">11</text><text transform="translate(387 1186)rotate(-90)">12</text><text transform="translate(395 1186)rotate(-90)">13</text><text transform="translate(403 1186)rotate(-90)">14</text><text transform="translate(411 1186)rotate(-90)">15</text><text transform="translate(419 1186)rotate(-90)">16</text>
</g>
</svg>
</body></html>
